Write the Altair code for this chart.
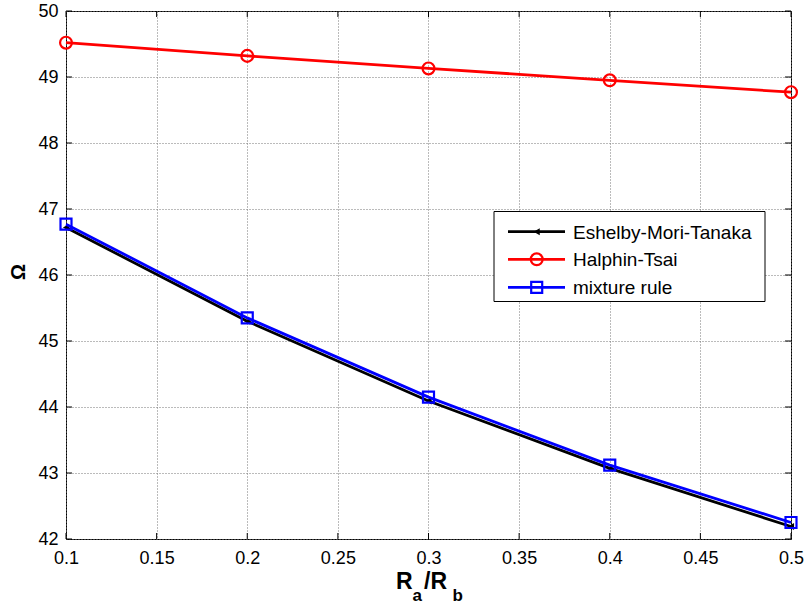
import altair as alt
import pandas as pd

# ---- data ----
x_vals = [0.1, 0.2, 0.3, 0.4, 0.5]
emt = [46.72, 45.30, 44.09, 43.07, 42.19]
ht = [49.52, 49.32, 49.13, 48.95, 48.77]
mix = [46.77, 45.35, 44.15, 43.12, 42.25]

series_names = ["Eshelby-Mori-Tanaka", "Halphin-Tsai", "mixture rule"]
series_colors = ["#000000", "#ff0000", "#0000ff"]

x_ticks = [0.1, 0.15, 0.2, 0.25, 0.3, 0.35, 0.4, 0.45, 0.5]
y_ticks = [42, 43, 44, 45, 46, 47, 48, 49, 50]

W, H = 725, 528
FONT = "Liberation Sans"

xs = alt.Scale(domain=[0.1, 0.5], nice=False, zero=False)
ys = alt.Scale(domain=[42, 50], nice=False, zero=False)

df_emt = pd.DataFrame({"x": x_vals, "y": emt})
df_ht = pd.DataFrame({"x": x_vals, "y": ht})
df_mix = pd.DataFrame({"x": x_vals, "y": mix})

x_axis = alt.Axis(values=x_ticks, format=".2~f", grid=True, gridColor="#777777",
                  gridDash=[1, 2], gridWidth=1, ticks=False, domain=False,
                  labelFontSize=18, labelFont=FONT, labelColor="black",
                  labelPadding=10, labelFlush=False, labelOverlap=False, title=None)
y_axis = alt.Axis(values=y_ticks, grid=True, gridColor="#777777",
                  gridDash=[1, 2], gridWidth=1, ticks=False, domain=False,
                  labelFontSize=18, labelFont=FONT, labelColor="black",
                  labelPadding=8, labelFlush=False, labelOverlap=False, title=None)


def X(field):
    return alt.X(field, type="quantitative", scale=xs, axis=x_axis, title=None)


def Y(field):
    return alt.Y(field, type="quantitative", scale=ys, axis=y_axis, title=None)


LW = 2.8


def line_layer(df, color):
    return alt.Chart(df).mark_line(color=color, strokeWidth=LW).encode(x=X("x"), y=Y("y"))


def point_layer(df, color, shape, size, filled):
    if filled:
        m = alt.Chart(df).mark_point(shape=shape, size=size, filled=True, color=color, opacity=1)
    else:
        m = alt.Chart(df).mark_point(shape=shape, size=size, filled=False, color=color,
                                     strokeWidth=2.2, opacity=1)
    return m.encode(x=X("x"), y=Y("y"))


layers = [
    line_layer(df_emt, series_colors[0]),
    point_layer(df_emt, series_colors[0], "triangle-left", 50, True),
    line_layer(df_ht, series_colors[1]),
    point_layer(df_ht, series_colors[1], "circle", 140, False),
    line_layer(df_mix, series_colors[2]),
    point_layer(df_mix, series_colors[2], "square", 121, False),
]

# inward ticks on all four sides
xt = pd.DataFrame({"x": x_ticks})
yt = pd.DataFrame({"y": y_ticks})
TL = 6
layers += [
    alt.Chart(xt).mark_rule(color="black", strokeWidth=1).encode(
        x=X("x"), y=alt.value(H), y2=alt.value(H - TL)),
    alt.Chart(xt).mark_rule(color="black", strokeWidth=1).encode(
        x=X("x"), y=alt.value(0), y2=alt.value(TL)),
    alt.Chart(yt).mark_rule(color="black", strokeWidth=1).encode(
        y=Y("y"), x=alt.value(0), x2=alt.value(TL)),
    alt.Chart(yt).mark_rule(color="black", strokeWidth=1).encode(
        y=Y("y"), x=alt.value(W), x2=alt.value(W - TL)),
]

# legend box
one = pd.DataFrame({"a": [0]})
layers.append(alt.Chart(one).mark_rect(fill="white", stroke="black", strokeWidth=1).encode(
    x=alt.value(428), x2=alt.value(699), y=alt.value(200.5), y2=alt.value(290.5)))

leg_rows = [220.7, 248.3, 276.3]
leg_shapes = ["triangle-left", "circle", "square"]
leg_sizes = [50, 140, 121]
leg_filled = [True, False, False]
for i, name in enumerate(series_names):
    ld = pd.DataFrame({"name": [name]})
    layers.append(alt.Chart(ld).mark_rule(color=series_colors[i], strokeWidth=LW).encode(
        x=alt.value(442), x2=alt.value(499), y=alt.value(leg_rows[i])))
    if leg_filled[i]:
        pm = alt.Chart(ld).mark_point(shape=leg_shapes[i], size=leg_sizes[i], filled=True,
                                      color=series_colors[i], opacity=1)
    else:
        pm = alt.Chart(ld).mark_point(shape=leg_shapes[i], size=leg_sizes[i], filled=False,
                                      color=series_colors[i], strokeWidth=2.2, opacity=1)
    layers.append(pm.encode(x=alt.value(470.7), y=alt.value(leg_rows[i])))
    layers.append(alt.Chart(ld).mark_text(align="left", baseline="middle", font=FONT,
                                          fontSize=19, color="black").encode(
        x=alt.value(507), y=alt.value(leg_rows[i] + 1), text="name:N"))

# axis titles
layers.append(alt.Chart(pd.DataFrame({"t": ["Ω"]})).mark_text(
    angle=270, font=FONT, fontSize=20, fontWeight="bold", color="black",
    align="center", baseline="middle").encode(
    x=alt.value(-47), y=alt.value(261), text="t:N"))

title_parts = pd.DataFrame({
    "t": ["R", "a", "/R", "b"],
    "px": [330, 346.5, 358, 386.5],
    "py": [578, 590, 578, 590],
    "fs": [23, 17, 23, 17],
})
for _, r in title_parts.iterrows():
    layers.append(alt.Chart(pd.DataFrame({"t": [r["t"]]})).mark_text(
        font=FONT, fontSize=float(r["fs"]), fontWeight="bold", color="black",
        align="left", baseline="alphabetic").encode(
        x=alt.value(float(r["px"])), y=alt.value(float(r["py"])), text="t:N"))

chart = alt.layer(*layers).properties(
    width=W, height=H,
    autosize=alt.AutoSizeParams(type="none"),
    padding={"left": 66, "top": 11, "right": 15, "bottom": 66},
    background="white",
).configure_view(stroke="black", strokeWidth=1)

chart.save("out.html", embed_options={"renderer": "svg", "actions": False})
